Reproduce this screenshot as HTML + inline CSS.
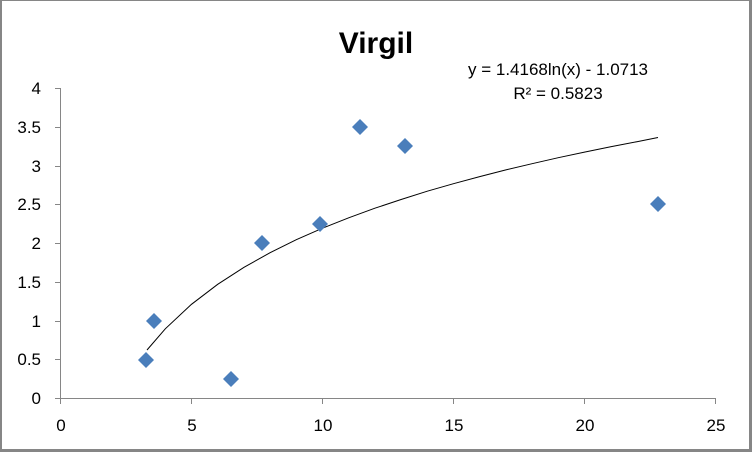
<!DOCTYPE html>
<html><head><style>body{margin:0;background:#fff}svg{display:block}</style></head><body>
<svg width="752" height="452" xmlns="http://www.w3.org/2000/svg" font-family="Liberation Sans, sans-serif">
<rect x="0.5" y="0.5" width="750" height="450" fill="#fff" stroke="#868686" stroke-width="1"/>
<line x1="0" y1="450.5" x2="752" y2="450.5" stroke="#868686" stroke-width="3"/>
<line x1="750.5" y1="0" x2="750.5" y2="452" stroke="#868686" stroke-width="3"/>
<line x1="1" y1="0" x2="1" y2="452" stroke="#868686" stroke-width="2"/>
<text x="376" y="53" text-anchor="middle" font-size="30" font-weight="bold">Virgil</text>
<text x="558" y="75" text-anchor="middle" font-size="17">y = 1.4168ln(x) - 1.0713</text>
<text x="558" y="99" text-anchor="middle" font-size="17">R² = 0.5823</text>
<g stroke="#868686" stroke-width="1">
<line x1="60.5" y1="88" x2="60.5" y2="398"/>
<line x1="60.5" y1="398.5" x2="716" y2="398.5"/>
<line x1="55" y1="88.5" x2="60.5" y2="88.5"/><line x1="55" y1="127.5" x2="60.5" y2="127.5"/>
<line x1="55" y1="166.5" x2="60.5" y2="166.5"/><line x1="55" y1="204.5" x2="60.5" y2="204.5"/>
<line x1="55" y1="243.5" x2="60.5" y2="243.5"/><line x1="55" y1="282.5" x2="60.5" y2="282.5"/>
<line x1="55" y1="321.5" x2="60.5" y2="321.5"/><line x1="55" y1="359.5" x2="60.5" y2="359.5"/>
<line x1="55" y1="398.5" x2="60.5" y2="398.5"/>
<line x1="60.5" y1="398" x2="60.5" y2="404"/><line x1="191.5" y1="398" x2="191.5" y2="404"/>
<line x1="322.5" y1="398" x2="322.5" y2="404"/><line x1="453.5" y1="398" x2="453.5" y2="404"/>
<line x1="584.5" y1="398" x2="584.5" y2="404"/><line x1="715.5" y1="398" x2="715.5" y2="404"/>
</g>
<g font-size="17" text-anchor="end">
<text x="41" y="94">4</text><text x="41" y="133">3.5</text><text x="41" y="172">3</text>
<text x="41" y="210">2.5</text><text x="41" y="249">2</text><text x="41" y="288">1.5</text>
<text x="41" y="327">1</text><text x="41" y="365">0.5</text><text x="41" y="404">0</text>
</g>
<g font-size="17" text-anchor="middle">
<text x="61" y="431">0</text><text x="192" y="431">5</text><text x="323" y="431">10</text>
<text x="454" y="431">15</text><text x="585" y="431">20</text><text x="716" y="431">25</text>
</g>
<polyline fill="none" stroke="#000" stroke-width="1" points="147,350 165.3,328.8 191.5,304.3 217.7,284.3 244,267.3 270.1,252.7 296.3,239.7 322.5,228.2 348.7,217.8 374.9,208.2 401.1,199.5 427.3,191.2 453.5,183.7 479.7,176.6 505.9,169.9 532.1,163.7 558.3,157.7 584.5,152.1 610.7,146.8 636.9,141.7 658,137.5"/>
<g fill="#4a7ebb">
<path d="M146 352l8 8-8 8-8-8z"/>
<path d="M154 313l8 8-8 8-8-8z"/>
<path d="M231 371l8 8-8 8-8-8z"/>
<path d="M262 235l8 8-8 8-8-8z"/>
<path d="M320 216l8 8-8 8-8-8z"/>
<path d="M360 119l8 8-8 8-8-8z"/>
<path d="M405 138l8 8-8 8-8-8z"/>
<path d="M658 196l8 8-8 8-8-8z"/>
</g>
</svg>
</body></html>
